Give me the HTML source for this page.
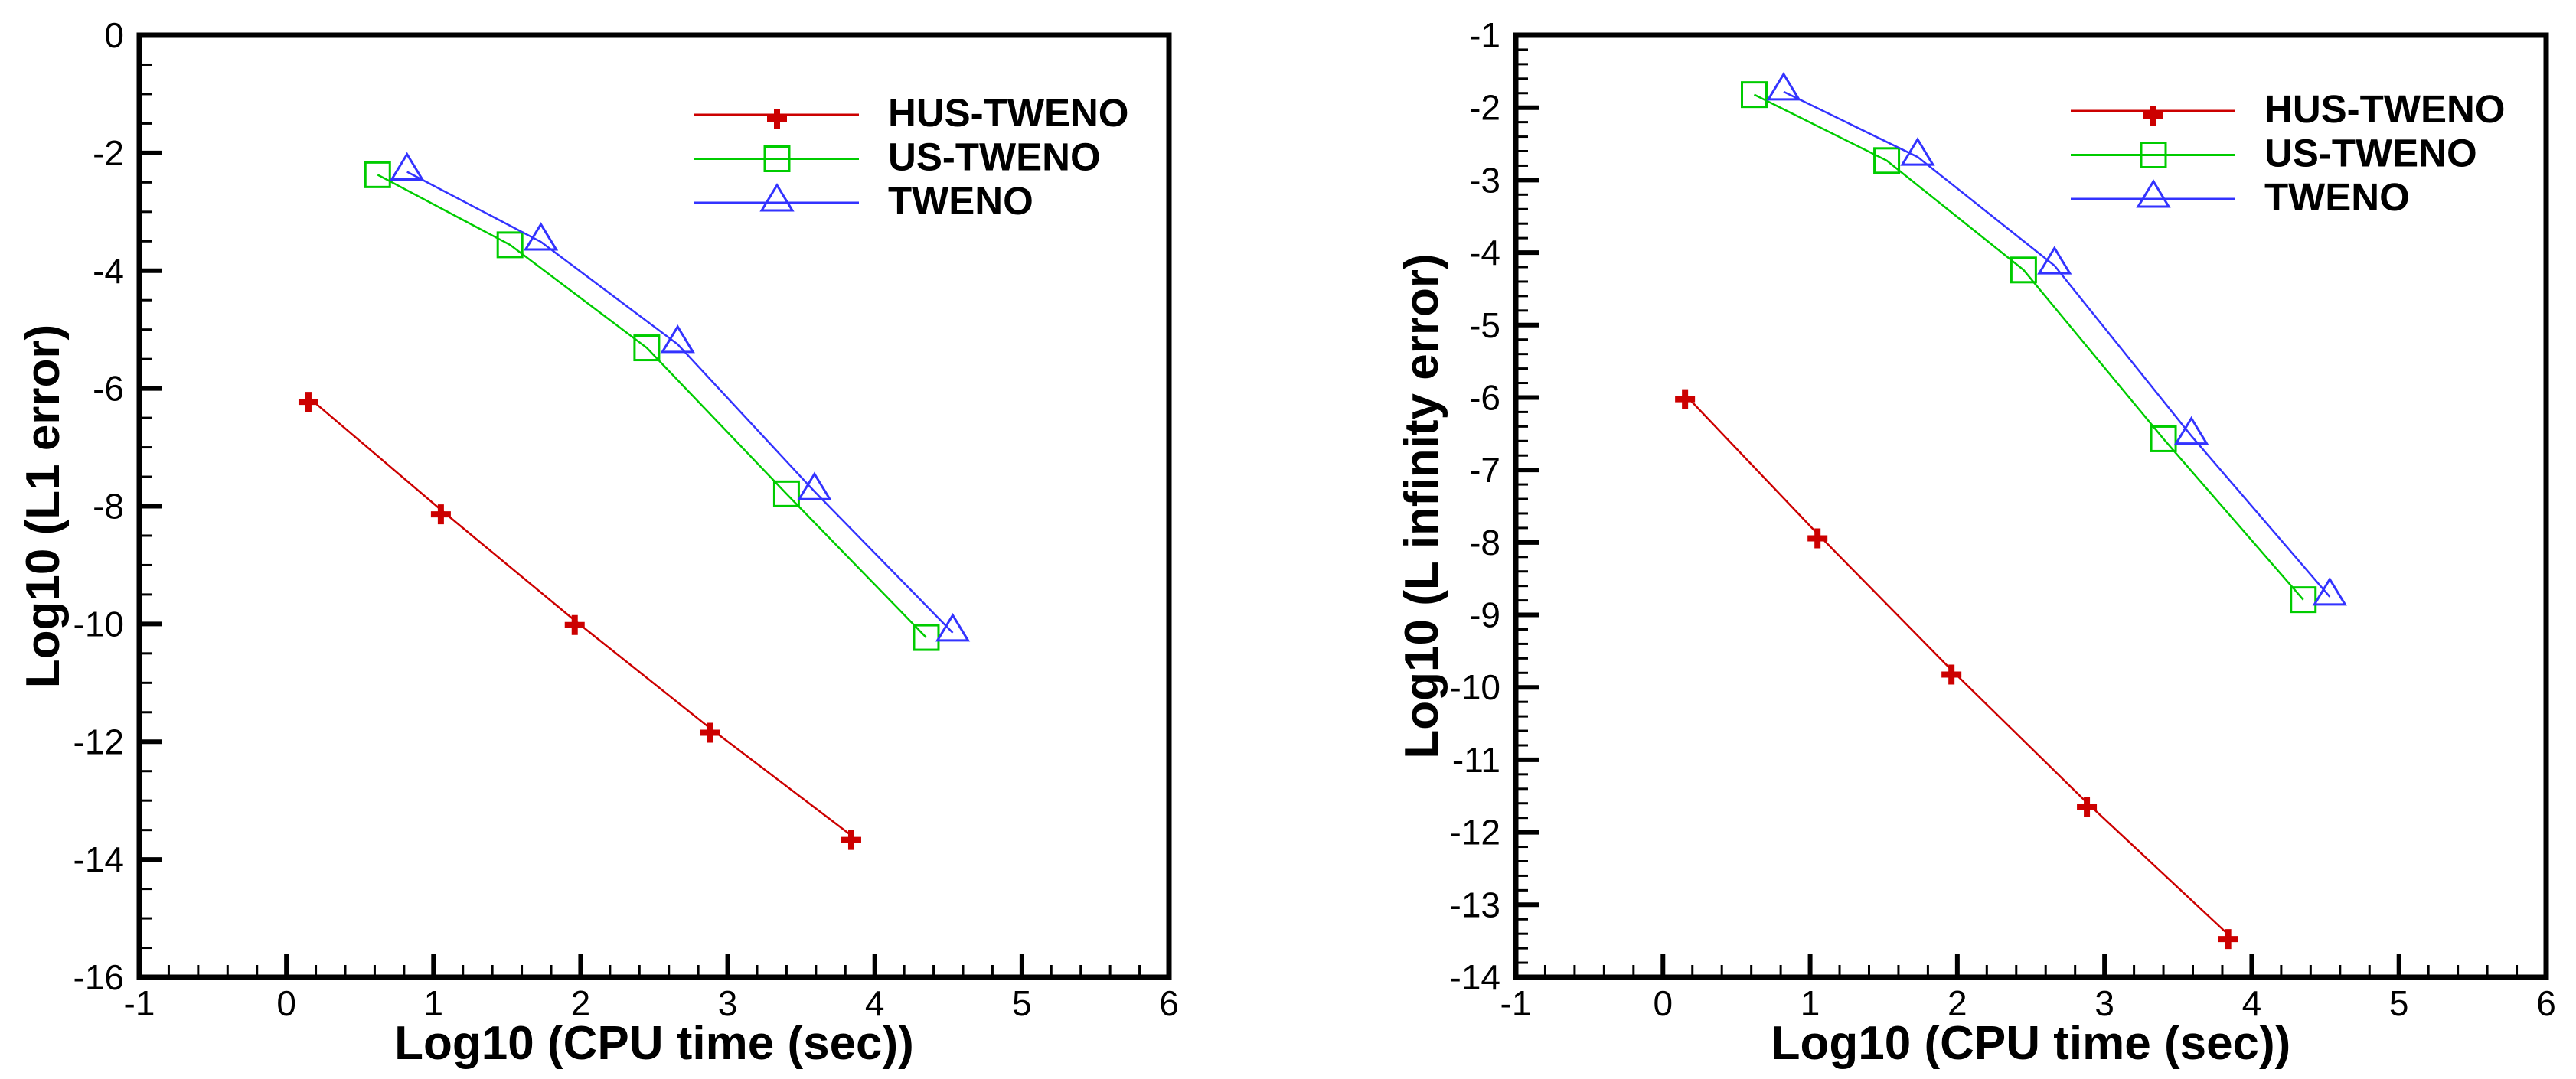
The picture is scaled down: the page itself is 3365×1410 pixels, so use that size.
<!DOCTYPE html>
<html><head><meta charset="utf-8"><style>
html,body{margin:0;padding:0;background:#fff;}
svg{display:block;font-family:"Liberation Sans",Arial,sans-serif;}
</style></head><body>
<svg id="chart" width="3365" height="1410" viewBox="0 0 3365 1410" xmlns="http://www.w3.org/2000/svg">
<rect x="0" y="0" width="3365" height="1410" fill="#fff"/>
</svg>
<script>
const cpuHUS = [0.15, 1.05, 1.96, 2.88, 3.84];
const cpuUS = [0.62, 1.52, 2.45, 3.40, 4.35];
const cpuTW = [0.82, 1.73, 2.66, 3.59, 4.53];
const l1HUS = [-6.15, -8.06, -9.94, -11.77, -13.59];
const l1US = [-2.37, -3.56, -5.31, -7.79, -10.23];
const l1TW = [-2.32, -3.51, -5.25, -7.75, -10.15];
const linfHUS = [-5.96, -7.88, -9.76, -11.59, -13.41];
const linfUS = [-1.82, -2.73, -4.24, -6.57, -8.79];
const linfTW = [-1.78, -2.68, -4.18, -6.53, -8.75];
const xTicks = [-1, 0, 1, 2, 3, 4, 5, 6];
const yTicksL = [0, -2, -4, -6, -8, -10, -12, -14, -16];
const yTicksR = [-1, -2, -3, -4, -5, -6, -7, -8, -9, -10, -11, -12, -13, -14];
const seriesNames = ["HUS-TWENO", "US-TWENO", "TWENO"];

const NS = "http://www.w3.org/2000/svg";
const svg = document.getElementById("chart");
function mk(tag, attrs, parent) {
  const e = document.createElementNS(NS, tag);
  for (const k in attrs) e.setAttribute(k, attrs[k]);
  (parent || svg).appendChild(e);
  return e;
}
const COLORS = ["#cc0000", "#00cc00", "#3333ff"];

function drawMarker(g, kind, cx, cy, color) {
  let m;
  if (kind === 0) {
    m = mk("path", {d: `M${cx-13},${cy+6}h26M${cx},${cy-7}v26`, stroke: color, "stroke-width": 8, fill: "none"}, g);
  } else if (kind === 1) {
    m = mk("rect", {x: cx-16, y: cy-16, width: 32, height: 32, fill: "none", stroke: color, "stroke-width": 3}, g);
  } else {
    m = mk("path", {d: `M${cx},${cy-23}L${cx+20},${cy+10}L${cx-20},${cy+10}Z`, fill: "none", stroke: color, "stroke-width": 3}, g);
  }
  
  
}

function panel(opt) {
  const g = mk("g", {});
  
  
  const L = opt.left, R = opt.right, T = 46, B = 1277;
  const xs = v => L + (v - (-1)) / 7 * (R - L);
  const ys = v => T + (opt.ymax - v) / (opt.ymax - opt.ymin) * (B - T);

  opt.series.forEach((s, i) => {
    const sg = mk("g", {}, g);
    
    
    const pts = s.x.map((xv, j) => xs(xv) + "," + ys(s.y[j])).join(" ");
    const pl = mk("polyline", {points: pts, fill: "none", stroke: COLORS[i], "stroke-width": 2.5}, sg);
    
    
    s.x.forEach((xv, j) => drawMarker(sg, i, xs(xv), ys(s.y[j]), COLORS[i]));
  });

  const tg = mk("g", {}, g);
  
  
  xTicks.forEach((t, k) => {
    const x = xs(t);
    mk("line", {x1: x, x2: x, y1: B, y2: B - 30, stroke: "#000", "stroke-width": 6}, tg);
    const lab = mk("text", {x: x, y: 1327, "font-size": 46, "text-anchor": "middle"}, tg);
    lab.textContent = String(t);
    
    
    if (k < xTicks.length - 1) {
      for (let m = 1; m < 5; m++) {
        const xm = xs(t + m * 0.2);
        mk("line", {x1: xm, x2: xm, y1: B, y2: B - 16, stroke: "#000", "stroke-width": 3}, tg);
      }
    }
  });
  const yg = mk("g", {}, g);
  
  
  const yt = opt.yticks;
  yt.forEach((t, k) => {
    const y = ys(t);
    mk("line", {x1: L, x2: L + 30, y1: y, y2: y, stroke: "#000", "stroke-width": 6}, yg);
    const lab = mk("text", {x: L - 20, y: y + 16, "font-size": 46, "text-anchor": "end"}, yg);
    lab.textContent = String(t);
    
    
    if (k < yt.length - 1) {
      const step = yt[k] - yt[k + 1];
      const nm = opt.minor;
      for (let m = 1; m < nm; m++) {
        const ym = ys(t - m * step / nm);
        mk("line", {x1: L, x2: L + 16, y1: ym, y2: ym, stroke: "#000", "stroke-width": 3}, yg);
      }
    }
  });
  const fr = mk("rect", {x: L, y: T, width: R - L, height: B - T, fill: "none", stroke: "#000", "stroke-width": 7}, g);
  
  

  const xt = mk("text", {x: (L + R) / 2, y: 1384, "font-size": 62, "font-weight": "bold", "text-anchor": "middle"}, g);
  xt.textContent = "Log10 (CPU time (sec))";
  
  
  const ytt = mk("text", {x: 0, y: 0, "font-size": 62, "font-weight": "bold", "text-anchor": "middle",
    transform: `translate(${opt.ytitleX},${(T + B) / 2}) rotate(-90)`}, g);
  ytt.textContent = opt.ytitle;
  
  

  const lg = mk("g", {}, g);
  
  
  seriesNames.forEach((n, i) => {
    const ey = opt.legY + i * 57.5;
    const eg = mk("g", {}, lg);
    
    
    mk("line", {x1: opt.legX, x2: opt.legX + 215, y1: ey, y2: ey, stroke: COLORS[i], "stroke-width": 3}, eg);
    drawMarker(eg, i, opt.legX + 108, ey, COLORS[i]);
    const tx = mk("text", {x: opt.legX + 253, y: ey + 15, "font-size": 51, "font-weight": "bold"}, eg);
    tx.textContent = n;
  });
}

panel({name: "l1-error-panel", left: 182, right: 1527, ymax: 0, ymin: -16, yticks: yTicksL, minor: 4,
  ytitle: "Log10 (L1 error)", ytitleX: 77, legX: 907, legY: 150,
  series: [{x: cpuHUS, y: l1HUS}, {x: cpuUS, y: l1US}, {x: cpuTW, y: l1TW}]});
panel({name: "linf-error-panel", left: 1980, right: 3326, ymax: -1, ymin: -14, yticks: yTicksR, minor: 5,
  ytitle: "Log10 (L infinity error)", ytitleX: 1878, legX: 2705, legY: 145,
  series: [{x: cpuHUS, y: linfHUS}, {x: cpuUS, y: linfUS}, {x: cpuTW, y: linfTW}]});
</script>
</body></html>
